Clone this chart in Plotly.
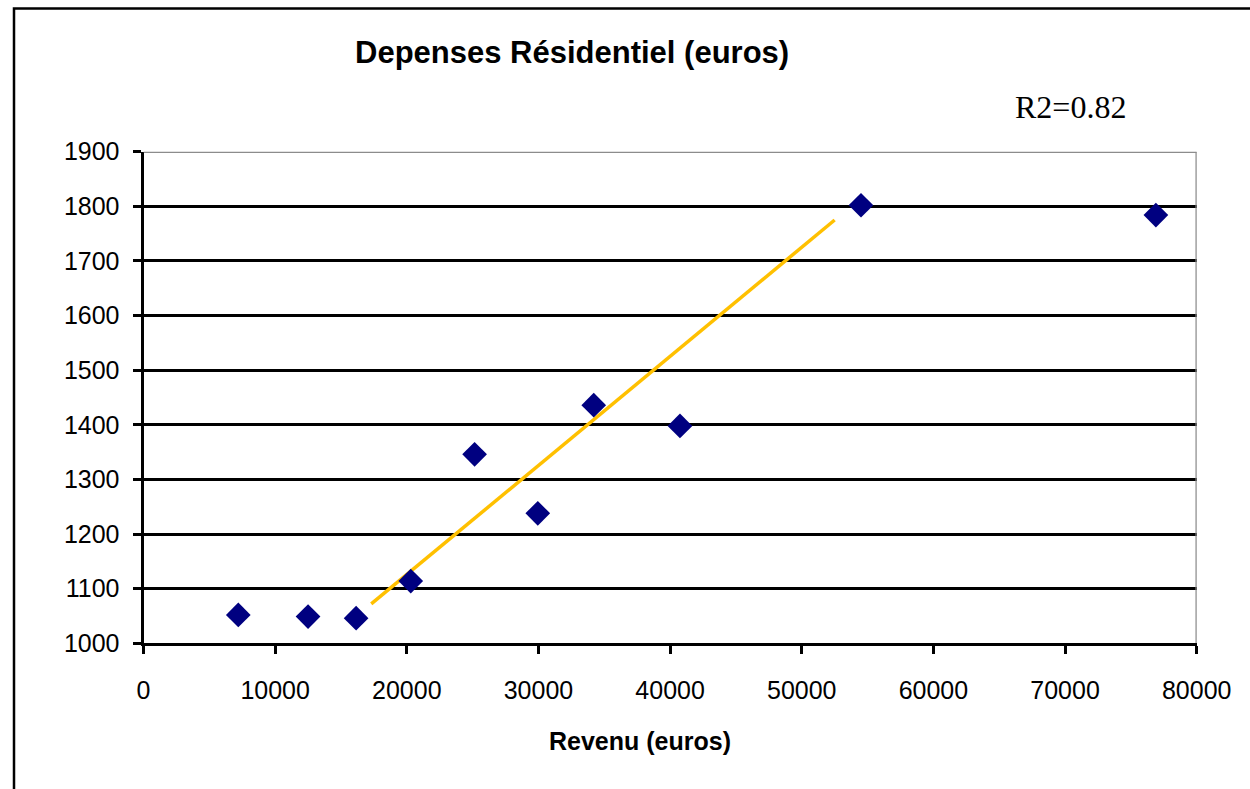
import plotly.graph_objects as go

# Data
revenu = [7200, 12500, 16150, 20300, 25150, 29950, 34200, 40750, 54500, 76900]
depenses = [1052, 1049, 1046, 1114, 1346, 1238, 1436, 1398, 1802, 1784]
trend_x = [17300, 52500]
trend_y = [1072, 1775]
x_ticks = [0, 10000, 20000, 30000, 40000, 50000, 60000, 70000, 80000]
y_ticks = [1000, 1100, 1200, 1300, 1400, 1500, 1600, 1700, 1800, 1900]
title_text = "Depenses Résidentiel (euros)"
x_title = "Revenu (euros)"
r2_text = "R2=0.82"

W, H = 1250, 789
px_l, px_r, px_t, px_b = 143.5, 1196.7, 151.7, 643.3

fig = go.Figure()
fig.add_trace(go.Scatter(
    x=trend_x, y=trend_y, mode="lines",
    line=dict(color="#FFC000", width=3.5), showlegend=False, hoverinfo="skip"))
fig.add_trace(go.Scatter(
    x=revenu, y=depenses, mode="markers",
    marker=dict(symbol="diamond", size=19, color="#000080", line=dict(width=0)),
    showlegend=False))

sans = "Liberation Sans, Arial, sans-serif"

fig.update_layout(
    width=W, height=H,
    margin=dict(l=0, r=0, t=0, b=0, autoexpand=False),
    paper_bgcolor="white", plot_bgcolor="white",
    font=dict(family=sans, color="black", size=25),
    xaxis=dict(
        domain=[px_l / W, px_r / W],
        range=[0, 80000], tickvals=x_ticks, ticktext=[str(v) for v in x_ticks],
        showgrid=False, zeroline=False,
        showline=True, linecolor="black", linewidth=3,
        ticks="outside", ticklen=8, tickwidth=2.5, tickcolor="black",
        tickfont=dict(family=sans, size=25, color="black"),
        ticklabelstandoff=15,
        automargin=False, fixedrange=True,
    ),
    yaxis=dict(
        domain=[1 - px_b / H, 1 - px_t / H],
        range=[1000, 1900], tickvals=y_ticks, ticktext=[str(v) for v in y_ticks],
        showgrid=True, gridcolor="black", gridwidth=2.5,
        zeroline=False,
        showline=True, linecolor="black", linewidth=3,
        ticks="outside", ticklen=8, tickwidth=2.5, tickcolor="black",
        tickfont=dict(family=sans, size=25, color="black"),
        ticklabelstandoff=8,
        automargin=False, fixedrange=True,
    ),
    shapes=[
        # gray border on top and right of plot area
        dict(type="line", xref="x", yref="y", x0=0, x1=80000, y0=1900, y1=1900,
             line=dict(color="#8C8C8C", width=2.5)),
        dict(type="line", xref="x", yref="y", x0=80000, x1=80000, y0=1000, y1=1900,
             line=dict(color="#8C8C8C", width=2.5)),
        # outer chart frame (extends past right/bottom edges)
        dict(type="rect", xref="paper", yref="paper",
             x0=14 / W, x1=1.02, y0=-0.02, y1=1 - 8.5 / H,
             line=dict(color="black", width=2.5), fillcolor="rgba(0,0,0,0)"),
    ],
    annotations=[
        dict(text="<b>" + title_text + "</b>", xref="paper", yref="paper",
             x=572 / W, y=1 - 52 / H, xanchor="center", yanchor="middle",
             showarrow=False, font=dict(family=sans, size=31, color="black")),
        dict(text="<b>" + x_title + "</b>", xref="paper", yref="paper",
             x=640 / W, y=1 - 741 / H, xanchor="center", yanchor="middle",
             showarrow=False, font=dict(family=sans, size=25, color="black")),
        dict(text=r2_text, xref="paper", yref="paper",
             x=1070 / W, y=1 - 107 / H, xanchor="center", yanchor="middle",
             showarrow=False,
             font=dict(family="Liberation Serif, Times New Roman, serif", size=32, color="black")),
    ],
)

fig.write_html("out.html",
               config={"displayModeBar": False},
               post_script="document.body.style.margin='0';document.body.style.overflow='hidden';")
